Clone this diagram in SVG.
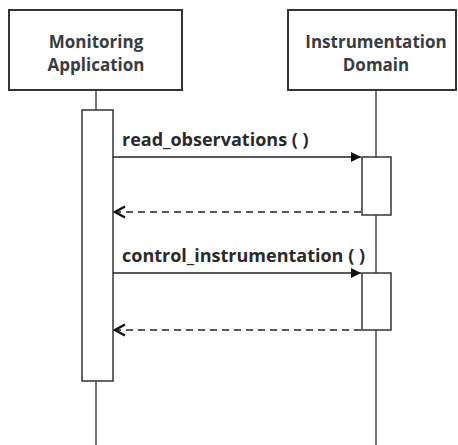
<svg xmlns="http://www.w3.org/2000/svg" width="458" height="445" viewBox="0 0 458 445">
<style>
.box{fill:#fff;stroke:#333;stroke-width:2}
.life{stroke:#777;stroke-width:2;fill:none}
.act{fill:#fff;stroke:#333;stroke-width:1.5}
.t{font-family:"Open Sans","Liberation Sans",sans-serif;font-weight:bold;font-size:17px;fill:#383c44}
.m{font-size:18px;fill:#2a2a2a}
.msg{stroke:#222;stroke-width:1.5;fill:none}
.ret{stroke:#222;stroke-width:1.5;fill:none;stroke-dasharray:7,5}
</style>
<defs>
<marker id="fill" viewBox="0 0 10 10" refX="10" refY="5" markerWidth="10" markerHeight="10" markerUnits="userSpaceOnUse" orient="auto"><path d="M0,0 L10,5 L0,10 Z" fill="#111"/></marker>
<marker id="open" viewBox="0 0 14 14" refX="12" refY="7" markerWidth="14" markerHeight="14" markerUnits="userSpaceOnUse" orient="auto"><path d="M2,1.5 L12,7 L2,12.5" fill="none" stroke="#111" stroke-width="2.5"/></marker>
</defs>
<g id="lifelines">
<line class="life" x1="96" y1="90" x2="96" y2="445"/>
<line class="life" x1="376" y1="90" x2="376" y2="445"/>
</g>
<g id="monitoring">
<rect class="box" x="9" y="10" width="173" height="80"/>
<text class="t" x="96" y="48" text-anchor="middle">Monitoring</text>
<text class="t" x="96" y="71" text-anchor="middle">Application</text>
</g>
<g id="instrumentation">
<rect class="box" x="288" y="10" width="168" height="80"/>
<text class="t" x="376" y="48" text-anchor="middle">Instrumentation</text>
<text class="t" x="376" y="71" text-anchor="middle">Domain</text>
</g>
<g id="act-monitoring">
<rect class="act" x="82" y="110" width="31" height="271"/>
</g>
<g id="act-instr-1">
<rect class="act" x="362" y="157" width="29" height="58"/>
</g>
<g id="act-instr-2">
<rect class="act" x="362" y="273" width="29" height="57"/>
</g>
<g id="connectors">
<line class="msg" x1="113" y1="157" x2="361" y2="157" marker-end="url(#fill)"/>
<text class="t m" x="122" y="146">read_observations ( )</text>
<line class="ret" x1="361" y1="212" x2="115" y2="212" marker-end="url(#open)"/>
<line class="msg" x1="113" y1="273" x2="361" y2="273" marker-end="url(#fill)"/>
<text class="t m" x="122" y="262">control_instrumentation ( )</text>
<line class="ret" x1="361" y1="330" x2="115" y2="330" marker-end="url(#open)"/>
</g>
</svg>
